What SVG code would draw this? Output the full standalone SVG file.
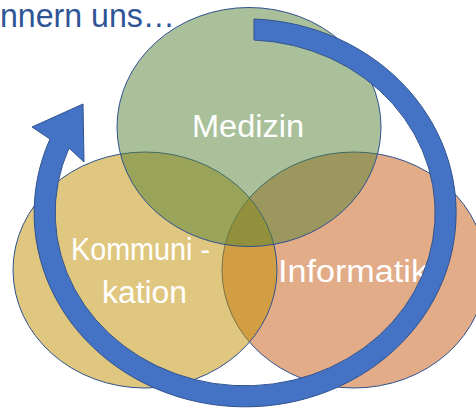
<svg xmlns="http://www.w3.org/2000/svg" width="476" height="409" viewBox="0 0 476 409">
  <style>
    .node ellipse { stroke: #2F528F; stroke-width: 1; fill-opacity: 0.5; }
    .lbl { font-family: "Liberation Sans", Arial, sans-serif; font-size: 31px; fill: #FFFFFF; }
    .title { font-family: "Liberation Sans", Arial, sans-serif; font-size: 34px; fill: #2F5597; }
    .arrow { fill: #4472C4; stroke: #2F528F; stroke-width: 1; stroke-linejoin: miter; }
  </style>
  <rect width="476" height="409" fill="#FFFFFF"/>
  <text class="title" x="0" y="27" textLength="175" lengthAdjust="spacingAndGlyphs">nnern uns…</text>
  <g id="informatik" class="node">
    <ellipse cx="354" cy="270" rx="132" ry="118" fill="#C55A11"/>
  </g>
  <g id="kommunikation" class="node">
    <ellipse cx="145" cy="270" rx="132" ry="118" fill="#BF9000"/>
  </g>
  <g id="medizin" class="node">
    <ellipse cx="249" cy="127" rx="132" ry="119.5" fill="#548235"/>
  </g>
  <g id="labels">
    <text class="lbl" x="192" y="137" textLength="112" lengthAdjust="spacingAndGlyphs">Medizin</text>
    <text class="lbl" x="71" y="260" textLength="139" lengthAdjust="spacingAndGlyphs">Kommuni -</text>
    <text class="lbl" x="102" y="303" textLength="85" lengthAdjust="spacingAndGlyphs">kation</text>
    <text class="lbl" x="278" y="282" textLength="150" lengthAdjust="spacingAndGlyphs">Informatik</text>
  </g>
  <g id="connectors">
    <path class="arrow" d="M 254 19 A 211 194 0 1 1 50 139 L 32 127 L 83 104 L 84 162 L 69 148 A 190 173 0 1 0 254 40 Z"/>
  </g>
</svg>
